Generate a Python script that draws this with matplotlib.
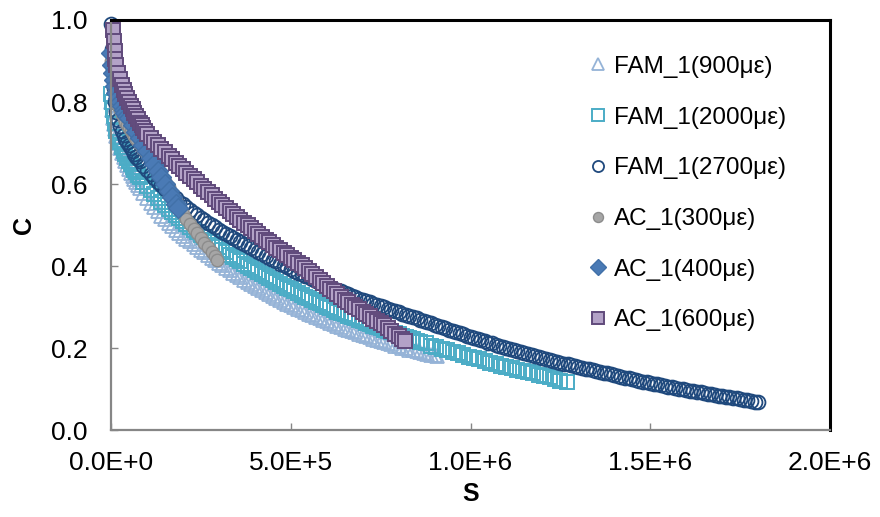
import numpy as np
import matplotlib
matplotlib.use("Agg")
import matplotlib.pyplot as plt
from matplotlib.ticker import FuncFormatter, MultipleLocator

plt.rcParams['font.family'] = ['Liberation Sans', 'DejaVu Sans']

early = [0, 0.25, 0.5, 0.75, 1, 1.5, 2, 2.5, 3, 3.5, 4, 4.5, 5, 5.5, 6, 6.5, 7, 7.5]

fam900_s = early + list(range(8, 91)) + [90.6]
fam900_c = [0.80, 0.78, 0.76, 0.747, 0.735, 0.716, 0.70, 0.687, 0.675, 0.665,
            0.655, 0.646, 0.637, 0.628, 0.62, 0.612, 0.605, 0.597,
            0.59, 0.577, 0.565, 0.554, 0.543, 0.533, 0.523, 0.514, 0.505, 0.497,
            0.489, 0.481, 0.474, 0.467, 0.46, 0.453, 0.446, 0.439, 0.433, 0.426,
            0.42, 0.414, 0.408, 0.402, 0.396, 0.39, 0.384, 0.378, 0.373, 0.367,
            0.362, 0.356, 0.351, 0.346, 0.341, 0.336, 0.331, 0.326, 0.322, 0.317,
            0.313, 0.308, 0.304, 0.30, 0.296, 0.292, 0.288, 0.284, 0.28, 0.276,
            0.272, 0.268, 0.265, 0.261, 0.258, 0.254, 0.251, 0.247, 0.244, 0.241,
            0.238, 0.235, 0.232, 0.229, 0.226, 0.223, 0.22, 0.217, 0.214, 0.211,
            0.209, 0.206, 0.204, 0.201, 0.199, 0.196, 0.194, 0.192, 0.19, 0.188,
            0.186, 0.184, 0.182, 0.181]

fam2000_s = early + list(range(8, 87)) + [
    87.5, 89, 90.5, 92, 93.5, 95, 96.5, 98, 99.5, 101, 102.5, 104, 105.5, 107,
    108.5, 110, 111.5, 113, 114.5, 116, 117.5, 119, 120.5, 122, 123.5, 125, 126.8]
fam2000_c = [0.82, 0.80, 0.78, 0.765, 0.75, 0.73, 0.715, 0.702, 0.69, 0.681,
             0.672, 0.664, 0.656, 0.649, 0.642, 0.635, 0.629, 0.622,
             0.616, 0.605, 0.595, 0.585, 0.575, 0.566, 0.557, 0.548, 0.54, 0.532,
             0.525, 0.517, 0.51, 0.503, 0.496, 0.489, 0.483, 0.476, 0.47, 0.464,
             0.458, 0.452, 0.446, 0.44, 0.434, 0.428, 0.423, 0.417, 0.412, 0.406,
             0.401, 0.396, 0.391, 0.386, 0.381, 0.376, 0.371, 0.366, 0.361, 0.356,
             0.352, 0.347, 0.343, 0.338, 0.334, 0.329, 0.325, 0.321, 0.317, 0.313,
             0.309, 0.305, 0.301, 0.297, 0.293, 0.289, 0.286, 0.282, 0.279, 0.275,
             0.272, 0.268, 0.265, 0.261, 0.258, 0.254, 0.251, 0.248, 0.245, 0.242,
             0.239, 0.236, 0.233, 0.23, 0.227, 0.224, 0.221, 0.218, 0.215,
             0.211, 0.206, 0.202, 0.198, 0.194, 0.19, 0.187, 0.183, 0.179, 0.175,
             0.172, 0.168, 0.164, 0.161, 0.157, 0.154, 0.151, 0.147, 0.144, 0.141,
             0.138, 0.135, 0.132, 0.129, 0.124, 0.12, 0.116]

fam2700_s = early + list(range(8, 181))
fam2700_c = [0.99, 0.93, 0.88, 0.835, 0.80, 0.775, 0.755, 0.742, 0.73, 0.72,
             0.71, 0.702, 0.695, 0.687, 0.68, 0.673, 0.667, 0.661,
             0.655, 0.645, 0.635, 0.625, 0.615, 0.606, 0.597, 0.588, 0.58, 0.572,
             0.565, 0.557, 0.55, 0.543, 0.537, 0.53, 0.524, 0.518, 0.512, 0.506,
             0.50, 0.494, 0.489, 0.483, 0.478, 0.473, 0.468, 0.463, 0.458, 0.453,
             0.448, 0.443, 0.438, 0.433, 0.429, 0.424, 0.42, 0.415, 0.411, 0.406,
             0.402, 0.397, 0.393, 0.388, 0.384, 0.38, 0.376, 0.372, 0.368, 0.364,
             0.36, 0.356, 0.352, 0.348, 0.345, 0.341, 0.338, 0.334, 0.331, 0.327,
             0.324, 0.32, 0.317, 0.314, 0.311, 0.308, 0.305, 0.302, 0.299, 0.296,
             0.293, 0.29, 0.287, 0.284, 0.281, 0.278, 0.275, 0.272, 0.269, 0.266,
             0.263, 0.26, 0.257, 0.254, 0.251, 0.248, 0.245, 0.242, 0.239, 0.236,
             0.233, 0.23, 0.227, 0.224, 0.222, 0.219, 0.216, 0.213, 0.211, 0.208,
             0.206, 0.203, 0.201, 0.198, 0.196, 0.193, 0.191, 0.188, 0.186, 0.183,
             0.181, 0.178, 0.176, 0.173, 0.171, 0.169, 0.167, 0.164, 0.162, 0.16,
             0.158, 0.156, 0.154, 0.152, 0.15, 0.148, 0.146, 0.144, 0.142, 0.14,
             0.138, 0.136, 0.134, 0.132, 0.13, 0.128, 0.126, 0.124, 0.122, 0.12,
             0.118, 0.116, 0.115, 0.113, 0.111, 0.109, 0.108, 0.106, 0.104, 0.102,
             0.101, 0.099, 0.098, 0.096, 0.095, 0.093, 0.092, 0.09, 0.089, 0.087,
             0.086, 0.084, 0.083, 0.081, 0.08, 0.078, 0.077, 0.075, 0.074, 0.072,
             0.071, 0.069, 0.068]

ac300_s = early[:17] + list(range(8, 30)) + [29.5]
ac300_c = [0.90, 0.87, 0.85, 0.833, 0.82, 0.803, 0.79, 0.78, 0.77, 0.761, 0.752,
           0.744, 0.737, 0.73, 0.723, 0.716, 0.71,
           0.698, 0.686, 0.674, 0.662, 0.649, 0.636, 0.622, 0.607, 0.592, 0.576,
           0.56, 0.543, 0.527, 0.515, 0.503, 0.491, 0.48, 0.469, 0.457, 0.446,
           0.435, 0.424, 0.415]

ac400_s = early[:13] + list(range(6, 19)) + [18.6]
ac400_c = [0.92, 0.89, 0.87, 0.853, 0.84, 0.823, 0.81, 0.80, 0.79, 0.781, 0.772,
           0.766, 0.76,
           0.743, 0.727, 0.711, 0.695, 0.68, 0.664, 0.648, 0.632, 0.616, 0.6,
           0.584, 0.568, 0.552, 0.542]

ac600_s = [0.5, 0.75, 1, 1.25, 1.5, 2, 2.5, 3, 3.5, 4, 4.5, 5, 5.5, 6, 6.5, 7,
           7.5, 8, 8.5, 9, 9.5, 10] + list(range(11, 82)) + [81.7]
ac600_c = [0.975, 0.95, 0.925, 0.905, 0.89, 0.87, 0.855, 0.842, 0.83, 0.82, 0.81,
           0.80, 0.79, 0.782, 0.774, 0.766, 0.758, 0.75, 0.743, 0.736, 0.729, 0.722,
           0.712, 0.703, 0.694, 0.686, 0.677, 0.668, 0.66, 0.652, 0.644, 0.636,
           0.628, 0.62, 0.613, 0.605, 0.596, 0.588, 0.58, 0.572, 0.564, 0.556,
           0.548, 0.541, 0.534, 0.527, 0.52, 0.513, 0.506, 0.50, 0.492, 0.485,
           0.478, 0.471, 0.464, 0.458, 0.451, 0.445, 0.438, 0.432, 0.426, 0.42,
           0.414, 0.408, 0.402, 0.396, 0.388, 0.38, 0.373, 0.366, 0.359, 0.352,
           0.345, 0.338, 0.331, 0.325, 0.318, 0.312, 0.306, 0.30, 0.294, 0.288,
           0.282, 0.277, 0.271, 0.266, 0.26, 0.255, 0.249, 0.242, 0.235, 0.229,
           0.222, 0.216]

labels = ['FAM_1(900με)', 'FAM_1(2000με)', 'FAM_1(2700με)',
          'AC_1(300με)', 'AC_1(400με)', 'AC_1(600με)']

series = [
    (fam900_s, fam900_c, dict(marker='^', ms=10, mfc='none', mec='#95B3D7', mew=1.3)),
    (fam2000_s, fam2000_c, dict(marker='s', ms=10, mfc='none', mec='#4BACC6', mew=1.4)),
    (fam2700_s, fam2700_c, dict(marker='o', ms=10, mfc='none', mec='#1F497D', mew=1.3)),
    (ac300_s, ac300_c, dict(marker='o', ms=9, mfc='#A6A6A6', mec='#8C8C8C', mew=1.0)),
    (ac400_s, ac400_c, dict(marker='D', ms=10, mfc='#4A7AB5', mec='#4170A8', mew=1.0)),
    (ac600_s, ac600_c, dict(marker='s', ms=10, mfc='#B3A2C7', mec='#604A7B', mew=1.4)),
]

fig = plt.figure(figsize=(8.8, 5.17), dpi=100)
ax = fig.add_axes([111 / 880, 87 / 517, 719 / 880, 410 / 517])

for (s, c, style), lab in zip(series, labels):
    ax.plot(np.array(s) * 1e4, c, linestyle='none', label=lab, clip_on=False, **style)

ax.set_xlim(0, 2e6)
ax.set_ylim(0, 1.0)
ax.xaxis.set_major_locator(MultipleLocator(5e5))
ax.yaxis.set_major_locator(MultipleLocator(0.2))


def sci_fmt(v, pos):
    if v == 0:
        return '0.0E+0'
    e = int(np.floor(np.log10(abs(v))))
    return f'{v / 10**e:.1f}E+{e}'


ax.xaxis.set_major_formatter(FuncFormatter(sci_fmt))
ax.yaxis.set_major_formatter(FuncFormatter(lambda v, p: f'{v:.1f}'))

ax.tick_params(direction='in', length=5, width=1, color='#868686',
               labelsize=19, pad=15)
ax.tick_params(axis='y', pad=17)

for side in ['left', 'bottom']:
    ax.spines[side].set_color('#868686')
    ax.spines[side].set_linewidth(1.6)
for side in ['top', 'right']:
    ax.spines[side].set_color('black')
    ax.spines[side].set_linewidth(2.2)

ax.set_xlabel('S', fontsize=18, fontweight='bold')
ax.set_ylabel('C', fontsize=18, fontweight='bold')
ax.xaxis.set_label_coords(0.5, -0.128)
ax.yaxis.set_label_coords(-0.105, 0.5)

leg = ax.legend(loc='upper left', bbox_to_anchor=(0.653, 0.936), frameon=False,
                fontsize=17.5, markerscale=0.8, handlelength=0.6, handletextpad=0.36,
                labelspacing=1.18, borderaxespad=0)

fig.savefig('out.png', dpi=100)
